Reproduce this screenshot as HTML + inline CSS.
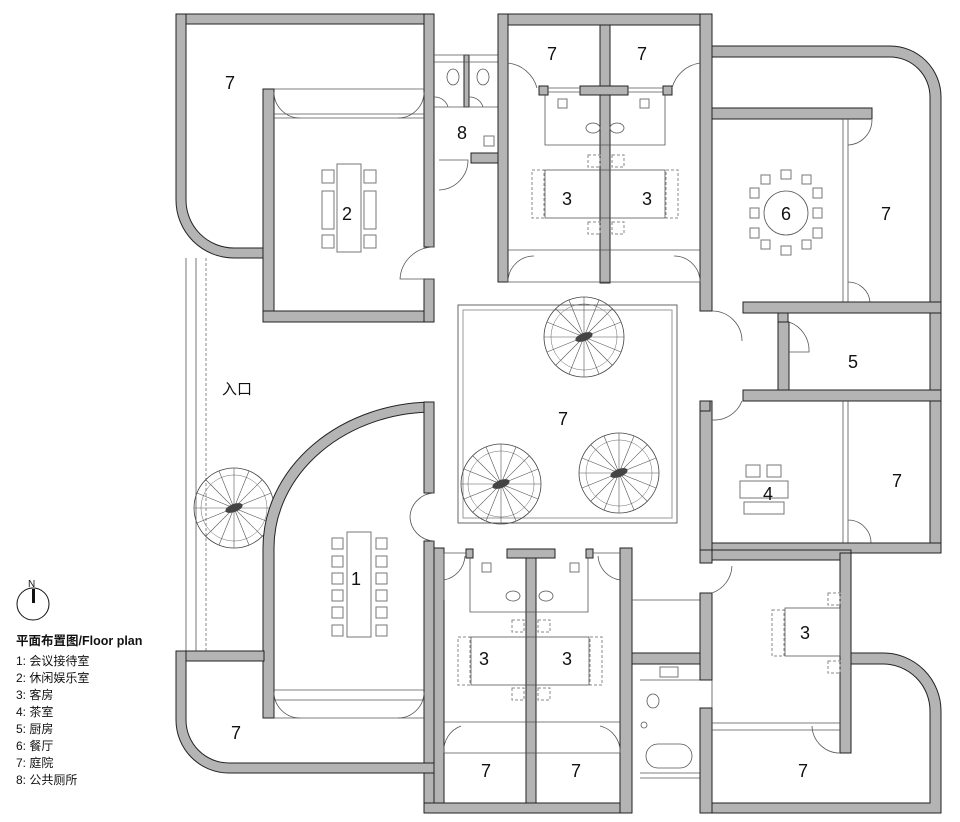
<!DOCTYPE html>
<html><head><meta charset="utf-8"><style>
html,body{margin:0;padding:0;background:#fff;}
svg{display:block}
.w{fill:#b4b4b4;stroke:#222;stroke-width:1}
.t{fill:none;stroke:#555;stroke-width:0.8}
.d{fill:none;stroke:#888;stroke-width:1;stroke-dasharray:3 2}
.f{fill:#fff;stroke:#777;stroke-width:1}
.lb{font-family:"Liberation Sans",sans-serif;font-size:18px;fill:#111;text-anchor:middle}
.lg{font-family:"Liberation Sans","Noto Sans CJK SC",sans-serif;font-size:12px;fill:#111}
</style></head><body>
<svg width="960" height="822" viewBox="0 0 960 822" xmlns="http://www.w3.org/2000/svg">
<defs>
<g id="tree">
<circle r="40" fill="none" stroke="#444" stroke-width="0.8"/>
<circle r="33" fill="none" stroke="#666" stroke-width="0.5"/>
<path d="M-40 0L40 0M0 -40L0 40M-28 -28L28 28M-28 28L28 -28M-15 -37L15 37M-37 -15L37 15M15 -37L-15 37M37 -15L-37 15" stroke="#555" stroke-width="0.6"/>
<ellipse rx="9" ry="4" fill="#444" transform="rotate(-20)"/>
</g>
</defs>

<path class="t" d="M186 258V652M196 258V652"/>
<path class="d" d="M206 258V652"/>

<rect class="w" x="176" y="14" width="258" height="10"/>
<path class="w" d="M176 14H186V200A48 48 0 0 0 234 248H264V258H234A58 58 0 0 1 176 200Z"/>
<rect class="w" x="263" y="89" width="11" height="233"/>
<rect class="w" x="263" y="311" width="171" height="11"/>
<rect class="w" x="424" y="14" width="10" height="233"/>
<rect class="w" x="424" y="279" width="10" height="43"/>
<path class="t" d="M274 89H424M274 118H424M274 114H424"/>
<path class="t" d="M300 118A26 26 0 0 1 274 92M398 118A26 26 0 0 0 424 92"/>
<path class="t" d="M434 247A34 34 0 0 0 400 279H434"/>
<rect class="f" x="337" y="164" width="24" height="88"/>
<rect class="f" x="322" y="170" width="12" height="13"/><rect class="f" x="322" y="191" width="12" height="38"/><rect class="f" x="322" y="235" width="12" height="13"/>
<rect class="f" x="364" y="170" width="12" height="13"/><rect class="f" x="364" y="191" width="12" height="38"/><rect class="f" x="364" y="235" width="12" height="13"/>

<!-- toilets 8 -->
<rect class="w" x="464" y="55" width="5" height="52"/>
<rect class="w" x="471" y="153" width="30" height="10"/>
<path class="t" d="M434 55H498M434 62H498M434 107H498"/>
<ellipse cx="453" cy="77" rx="6" ry="8" class="t"/><ellipse cx="483" cy="77" rx="6" ry="8" class="t"/>
<path class="t" d="M434 97A14 14 0 0 1 448 107M469 97A14 14 0 0 1 483 107"/>
<rect class="f" x="484" y="136" width="10" height="10"/>
<path class="t" d="M439 190A30 30 0 0 0 468 160H439"/>

<!-- top guest block -->
<rect class="w" x="498" y="14" width="212" height="11"/>
<rect class="w" x="498" y="14" width="10" height="268"/>
<rect class="w" x="700" y="14" width="12" height="297"/>
<rect class="w" x="600" y="25" width="10" height="258"/>
<rect class="w" x="580" y="86" width="48" height="9"/>
<rect class="w" x="539" y="86" width="9" height="9"/><rect class="w" x="663" y="86" width="9" height="9"/>
<path class="t" d="M548 88H580M548 92H580M628 88H663M628 92H663"/>
<path class="t" d="M545 95V145H665V95M508 250H700M508 282H700"/>
<path class="t" d="M508 63A34 34 0 0 1 537 88M700 63A34 34 0 0 0 672 88"/>
<path class="t" d="M508 282A26 26 0 0 1 534 256M700 282A26 26 0 0 0 674 256"/>
<rect class="f" x="558" y="99" width="9" height="9"/><rect class="f" x="640" y="99" width="9" height="9"/>
<ellipse cx="593" cy="128" rx="7" ry="5" class="t"/><ellipse cx="617" cy="128" rx="7" ry="5" class="t"/>
<rect class="t" x="545" y="170" width="120" height="48"/>
<rect class="d" x="532" y="170" width="12" height="48"/><rect class="d" x="666" y="170" width="12" height="48"/>
<rect class="d" x="588" y="155" width="12" height="12"/><rect class="d" x="612" y="155" width="12" height="12"/>
<rect class="d" x="588" y="222" width="12" height="12"/><rect class="d" x="612" y="222" width="12" height="12"/>

<!-- right side -->
<path class="w" d="M712 46H890A51 51 0 0 1 941 97V553H930V97A40 40 0 0 0 890 57H712Z"/>
<rect class="w" x="712" y="108" width="160" height="11"/>
<path class="t" d="M843 119V302M848 119V302"/>
<path class="t" d="M848 145A25 25 0 0 0 872 120M848 282A22 22 0 0 1 870 302"/>
<rect class="w" x="743" y="302" width="198" height="11"/>
<rect class="w" x="778" y="322" width="11" height="70"/>
<rect class="w" x="778" y="313" width="10" height="9"/>
<rect class="w" x="743" y="390" width="198" height="11"/>
<rect class="w" x="700" y="401" width="12" height="152"/>
<rect class="w" x="700" y="401" width="10" height="10"/>
<path class="t" d="M712 311A30 30 0 0 1 742 341M789 322A30 30 0 0 1 809 352H789M712 420A30 30 0 0 0 742 401"/>
<path class="t" d="M843 401V543M848 401V543M848 520A23 23 0 0 1 871 543"/>
<rect class="w" x="712" y="543" width="229" height="10"/>
<circle cx="786" cy="213" r="22" class="t"/>
<g class="f">
<rect x="781" y="170" width="10" height="9"/><rect x="781" y="246" width="10" height="9"/>
<rect x="750" y="188" width="9" height="10"/><rect x="750" y="208" width="9" height="10"/><rect x="750" y="228" width="9" height="10"/>
<rect x="813" y="188" width="9" height="10"/><rect x="813" y="208" width="9" height="10"/><rect x="813" y="228" width="9" height="10"/>
<rect x="761" y="175" width="9" height="9"/><rect x="802" y="175" width="9" height="9"/><rect x="761" y="240" width="9" height="9"/><rect x="802" y="240" width="9" height="9"/>
</g>
<rect class="f" x="746" y="465" width="14" height="12"/><rect class="f" x="767" y="465" width="14" height="12"/>
<rect class="f" x="740" y="481" width="48" height="17"/><rect class="f" x="744" y="502" width="40" height="12"/>

<!-- central courtyard -->
<rect x="458" y="305" width="219" height="218" fill="none" stroke="#666"/>
<rect x="463" y="310" width="209" height="208" fill="none" stroke="#999"/>
<use href="#tree" x="584" y="337"/>
<use href="#tree" x="501" y="484"/>
<use href="#tree" x="619" y="473"/>
<use href="#tree" x="234" y="508"/>

<!-- room 1 -->
<path class="w" d="M434 402V412A160 136 0 0 0 274 548V718H263V548A171 146 0 0 1 434 402Z"/>
<rect class="w" x="424" y="402" width="10" height="91"/>
<rect class="w" x="424" y="541" width="10" height="271"/>
<path class="t" d="M434 493A25 25 0 0 0 410 517A25 25 0 0 0 434 541M274 690H424M274 700H424M274 718H424"/>
<path class="t" d="M300 718A26 26 0 0 1 274 692M398 718A26 26 0 0 0 424 692"/>
<rect class="f" x="347" y="532" width="24" height="105"/>
<g class="f">
<rect x="332" y="538" width="11" height="11"/><rect x="332" y="556" width="11" height="11"/><rect x="332" y="573" width="11" height="11"/><rect x="332" y="590" width="11" height="11"/><rect x="332" y="607" width="11" height="11"/><rect x="332" y="625" width="11" height="11"/>
<rect x="376" y="538" width="11" height="11"/><rect x="376" y="556" width="11" height="11"/><rect x="376" y="573" width="11" height="11"/><rect x="376" y="590" width="11" height="11"/><rect x="376" y="607" width="11" height="11"/><rect x="376" y="625" width="11" height="11"/>
</g>
<rect class="w" x="176" y="651" width="88" height="10"/>
<path class="w" d="M176 651H186V720A43 43 0 0 0 229 763H434V773H229A53 53 0 0 1 176 720Z"/>

<!-- bottom guest block -->
<rect class="w" x="434" y="548" width="10" height="264"/>
<rect class="w" x="424" y="803" width="208" height="10"/>
<rect class="w" x="620" y="548" width="12" height="265"/>
<rect class="w" x="526" y="553" width="10" height="250"/>
<rect class="w" x="507" y="549" width="48" height="9"/>
<rect class="w" x="466" y="549" width="7" height="9"/><rect class="w" x="586" y="549" width="7" height="9"/>
<path class="t" d="M444 553V600M444 553H466M593 553H620"/>
<path class="t" d="M470 558V612H588V558M444 722H620M444 753H620"/>
<path class="t" d="M444 580A26 26 0 0 0 465 556M620 580A26 26 0 0 1 598 556M444 753A26 26 0 0 1 461 726M620 753A26 26 0 0 0 600 726"/>
<rect class="f" x="482" y="563" width="9" height="9"/><rect class="f" x="570" y="563" width="9" height="9"/>
<ellipse cx="513" cy="596" rx="7" ry="5" class="t"/><ellipse cx="546" cy="596" rx="7" ry="5" class="t"/>
<rect class="t" x="471" y="637" width="118" height="48"/>
<rect class="d" x="458" y="637" width="12" height="48"/><rect class="d" x="590" y="637" width="12" height="48"/>
<rect class="d" x="512" y="620" width="12" height="12"/><rect class="d" x="538" y="620" width="12" height="12"/>
<rect class="d" x="512" y="688" width="12" height="12"/><rect class="d" x="538" y="688" width="12" height="12"/>

<!-- bathroom -->
<rect class="w" x="632" y="653" width="78" height="11"/>
<path class="t" d="M632 600H700M640 680H712V708M640 778H700M640 773H700"/>
<rect class="f" x="660" y="667" width="18" height="10"/>
<ellipse cx="653" cy="701" rx="6" ry="7" class="t"/>
<circle cx="644" cy="725" r="3" class="t"/>
<rect class="t" x="646" y="744" width="46" height="24" rx="12"/>

<!-- room 3 right -->
<rect class="w" x="700" y="550" width="12" height="13"/>
<rect class="w" x="700" y="593" width="12" height="87"/>
<rect class="w" x="700" y="708" width="12" height="105"/>
<rect class="w" x="712" y="550" width="139" height="10"/>
<rect class="w" x="840" y="553" width="11" height="200"/>
<path class="w" d="M851 653H883A58 58 0 0 1 941 711V813H712V803H930V711A47 47 0 0 0 883 664H851Z"/>
<path class="t" d="M712 593A30 30 0 0 0 732 566M712 723H840M712 730H840M840 753A28 28 0 0 1 812 726"/>
<rect class="t" x="785" y="608" width="55" height="48"/>
<rect class="d" x="772" y="610" width="12" height="46"/>
<rect class="d" x="828" y="593" width="12" height="12"/><rect class="d" x="828" y="661" width="12" height="12"/>

<g class="lb">
<text x="230" y="89">7</text><text x="347" y="220">2</text><text x="462" y="139">8</text>
<text x="552" y="60">7</text><text x="642" y="60">7</text>
<text x="567" y="205">3</text><text x="647" y="205">3</text>
<text x="786" y="220">6</text><text x="886" y="220">7</text><text x="853" y="368">5</text>
<text x="563" y="425">7</text><text x="768" y="500">4</text><text x="897" y="487">7</text>
<text x="356" y="585">1</text><text x="484" y="665">3</text><text x="567" y="665">3</text><text x="805" y="639">3</text>
<text x="236" y="739">7</text><text x="486" y="777">7</text><text x="576" y="777">7</text><text x="803" y="777">7</text>
</g>
<text x="222" y="394" class="lg" style="font-size:15px">入口</text>

<text x="28" y="587" class="lg" style="font-size:10px">N</text>
<circle cx="33" cy="604" r="16" fill="none" stroke="#111" stroke-width="1"/>
<rect x="32" y="589" width="3" height="14" fill="#111"/>
<text x="16" y="645" class="lg" style="font-weight:bold;font-size:12.5px">平面布置图/Floor plan</text>
<g class="lg">
<text x="16" y="665">1:  会议接待室</text>
<text x="16" y="682">2:  休闲娱乐室</text>
<text x="16" y="699">3:  客房</text>
<text x="16" y="716">4:  茶室</text>
<text x="16" y="733">5:  厨房</text>
<text x="16" y="750">6:  餐厅</text>
<text x="16" y="767">7:  庭院</text>
<text x="16" y="784">8:  公共厕所</text>
</g>
</svg>
</body></html>
